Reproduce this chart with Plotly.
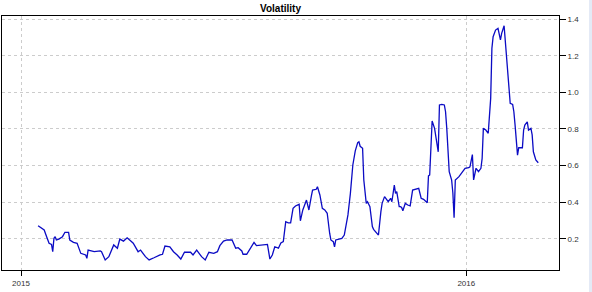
import pandas as pd
import plotly.graph_objects as go

# Days since 2015-01-01 and the volatility read at each of them
day_offset = [14, 19, 21, 23, 25, 26, 27, 28, 29, 31, 34, 36, 39, 40, 43, 46, 49, 53, 54, 55,
              60, 65, 66, 69, 72, 75, 76, 79, 81, 84, 87, 90, 92, 96, 98, 102, 105, 109, 111, 114,
              116, 118, 122, 125, 128, 131, 134, 139, 141, 144, 146, 148, 151, 154, 158, 161, 163, 166, 169, 173,
              176, 178, 181, 182, 185, 188, 191, 193, 200, 202, 204, 206, 208, 211, 213, 215, 217, 219, 221, 223,
              225, 228, 229, 231, 234, 236, 238, 239, 242, 243, 245, 247, 249, 251, 253, 254, 256, 257, 258, 263,
              265, 267, 268, 270, 272, 274, 276, 277, 278, 280, 281, 283, 284, 286, 288, 289, 291, 293, 295, 296,
              298, 300, 301, 303, 304, 306, 307, 308, 310, 311, 312, 313, 315, 317, 319, 321, 323, 326, 328, 330,
              333, 334, 335, 337, 339, 341, 342, 343, 345, 347, 348, 349, 351, 353, 354, 355, 356, 359, 362, 364,
              367, 368, 370, 371, 373, 375, 377, 378, 379, 381, 383, 385, 386, 387, 389, 391, 393, 394, 396, 397,
              398, 400, 401, 403, 404, 405, 406, 407, 408, 411, 412, 413, 415, 416, 418, 419, 420, 422, 424]
volatility = [0.271, 0.248, 0.211, 0.175, 0.169, 0.129, 0.202, 0.211, 0.193, 0.198, 0.211, 0.235, 0.235, 0.193, 0.180, 0.175, 0.120, 0.111, 0.093, 0.138,
              0.129, 0.133, 0.129, 0.084, 0.102, 0.148, 0.166, 0.148, 0.198, 0.187, 0.205, 0.187, 0.175, 0.129, 0.138, 0.102, 0.084, 0.096, 0.104, 0.112,
              0.115, 0.160, 0.156, 0.129, 0.111, 0.089, 0.126, 0.126, 0.111, 0.138, 0.120, 0.102, 0.084, 0.126, 0.120, 0.129, 0.162, 0.187, 0.193, 0.193,
              0.148, 0.151, 0.133, 0.115, 0.115, 0.148, 0.180, 0.162, 0.166, 0.169, 0.089, 0.111, 0.156, 0.148, 0.177, 0.184, 0.293, 0.287, 0.287, 0.366,
              0.379, 0.388, 0.298, 0.357, 0.411, 0.357, 0.433, 0.466, 0.470, 0.484, 0.439, 0.366, 0.357, 0.339, 0.230, 0.193, 0.184, 0.156, 0.193, 0.202,
              0.220, 0.284, 0.330, 0.448, 0.603, 0.680, 0.725, 0.730, 0.705, 0.694, 0.521, 0.393, 0.402, 0.375, 0.266, 0.251, 0.238, 0.220, 0.348, 0.393,
              0.430, 0.411, 0.402, 0.421, 0.402, 0.493, 0.448, 0.457, 0.375, 0.375, 0.371, 0.353, 0.393, 0.384, 0.379, 0.466, 0.470, 0.475, 0.421, 0.415,
              0.397, 0.543, 0.548, 0.843, 0.803, 0.730, 0.675, 0.931, 0.934, 0.931, 0.894, 0.803, 0.566, 0.520, 0.450, 0.315, 0.521, 0.539, 0.566, 0.585,
              0.588, 0.593, 0.660, 0.521, 0.585, 0.566, 0.585, 0.639, 0.803, 0.794, 0.776, 0.967, 1.240, 1.304, 1.340, 1.350, 1.286, 1.322, 1.364, 1.277,
              1.176, 1.013, 0.940, 0.934, 0.894, 0.821, 0.739, 0.657, 0.697, 0.697, 0.794, 0.821, 0.839, 0.794, 0.803, 0.767, 0.675, 0.630, 0.615]

y_ticks = [0.2, 0.4, 0.6, 0.8, 1.0, 1.2, 1.4]
y_tick_labels = ["0.2", "0.4", "0.6", "0.8", "1.0", "1.2", "1.4"]
x_ticks = ["2015-01-01", "2016-01-01"]
x_tick_labels = ["2015", "2016"]

dates = pd.Timestamp("2015-01-01") + pd.to_timedelta(day_offset, unit="D")

fig = go.Figure()
fig.add_trace(go.Scatter(x=dates, y=volatility, mode="lines",
                         line=dict(color="#0b0bc4", width=1.3), showlegend=False))

fig.update_layout(
    width=592, height=292,
    margin=dict(l=2, r=33, t=16, b=22),
    paper_bgcolor="white", plot_bgcolor="white",
    font=dict(family="Liberation Sans, Arial, sans-serif", size=8, color="#333333"),
    title=dict(text="<b>Volatility</b>", x=0.5, xref="paper", xanchor="center",
               y=1 - 8 / 292, yanchor="middle",
               font=dict(size=10, color="black")),
    xaxis=dict(type="date", range=["2014-12-16 10:00", "2016-03-17"],
               tickvals=x_ticks, ticktext=x_tick_labels,
               ticks="outside", ticklen=5, tickcolor="black",
               showline=True, mirror=True, linecolor="black", linewidth=1,
               showgrid=True, gridcolor="#cccccc", griddash="dot", gridwidth=1,
               zeroline=False),
    yaxis=dict(side="right", range=[0.029, 1.417],
               tickvals=y_ticks, ticktext=y_tick_labels,
               ticks="outside", ticklen=6, tickcolor="black",
               showline=True, mirror=True, linecolor="black", linewidth=1,
               showgrid=True, gridcolor="#cccccc", griddash="dot", gridwidth=1,
               zeroline=False),
)

fig.add_shape(type="rect", xref="paper", yref="paper",
              x0=(589 - 2) / 557, x1=1.07, y0=-0.1, y1=1.1,
              fillcolor="#e4eaf6", line=dict(width=0), layer="below")

fig.write_html("out.html")
